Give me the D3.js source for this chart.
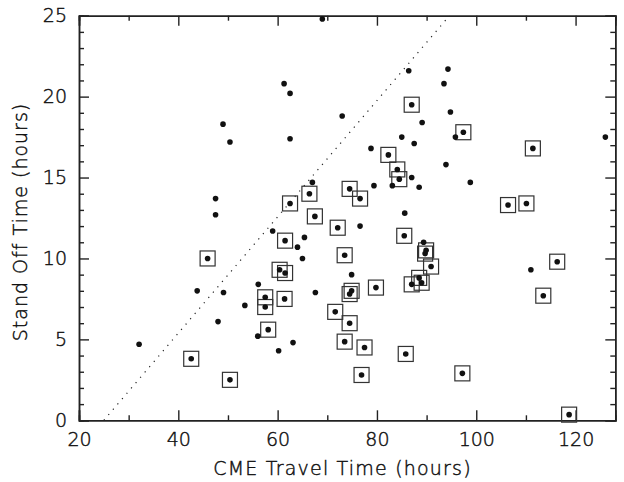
<!DOCTYPE html>
<html>
<head>
<meta charset="utf-8">
<script src="https://cdn.jsdelivr.net/npm/d3@7"></script>
<style>
    body { margin: 0; background: #fff; }
    svg text { font-family: "DejaVu Sans", "Liberation Sans", sans-serif; font-weight: 200;
        fill: #111; stroke: #111; stroke-width: 0.45px; }
</style>
</head>
<body>
<div id="chart"></div>
<script>
// plain events (dots only)
const plainTravel = [32.1, 43.8, 49.1, 48.0, 53.4, 56.1, 56.0, 60.2, 63.1, 59.0, 65.4, 64.0, 65.0, 67.6,
    49.0, 50.4, 47.5, 47.5, 61.3, 62.5, 62.5, 67.0, 69.0, 86.4, 94.3, 93.5, 94.8, 73.0, 89.1, 95.8,
    126.0, 85.0, 87.5, 78.8, 93.9, 87.0, 79.4, 83.1, 88.5, 98.8, 76.6, 85.6, 89.4, 74.9, 111.0];
const plainStandOff = [4.7, 8.0, 7.9, 6.1, 7.1, 8.4, 5.2, 4.3, 4.8, 11.7, 11.3, 10.7, 10.0, 7.9,
    18.3, 17.2, 13.7, 12.7, 20.8, 20.2, 17.4, 14.7, 24.8, 21.6, 21.7, 20.8, 19.05, 18.8, 18.4, 17.5,
    17.5, 17.5, 17.1, 16.8, 15.8, 15.0, 14.5, 14.5, 14.4, 14.7, 12.0, 12.8, 11.0, 9.0, 9.3];

// boxed events (dot inside a square)
const boxedTravel = [42.6, 45.9, 50.4, 57.5, 57.5, 58.1, 60.4, 61.5, 61.4, 61.5, 62.5, 66.4, 67.5,
    87.0, 97.4, 111.4, 82.3, 84.1, 84.5, 74.5, 76.6, 72.1, 106.4, 110.1, 85.5, 73.5, 74.5, 74.9,
    79.8, 71.6, 74.5, 73.5, 77.5, 76.9, 89.9, 89.7, 90.9, 88.5, 87.0, 89.0, 85.8, 97.2, 116.3,
    113.5, 118.7];
const boxedStandOff = [3.8, 10.0, 2.5, 7.6, 7.0, 5.6, 9.3, 9.1, 7.5, 11.1, 13.4, 14.0, 12.6,
    19.5, 17.8, 16.8, 16.4, 15.5, 14.9, 14.3, 13.7, 11.9, 13.3, 13.4, 11.4, 10.2, 7.8, 8.0,
    8.2, 6.7, 6.0, 4.86, 4.5, 2.8, 10.5, 10.3, 9.5, 8.8, 8.4, 8.5, 4.1, 2.9, 9.8,
    7.7, 0.35];

// dotted reference line end points (travel, standoff)
const refLineTravel = [25, 94.6];
const refLineStandOff = [0, 25];

const xTicks = [20, 40, 60, 80, 100, 120];
const xMinor = [30, 50, 70, 90, 110];
const yTicks = [0, 5, 10, 15, 20, 25];
const yMinor = d3.range(0, 26);

const W = 624, H = 482;
const mLeft = 79, mRight = 615.3, mTop = 15.7, mBottom = 420.3;

let x = d3.scaleLinear().domain([20, 128]).range([mLeft, mRight]);
let y = d3.scaleLinear().domain([0, 25]).range([mBottom, mTop]);

let svg = d3.select("#chart").append("svg")
    .attr("width", W).attr("height", H);

// dotted line (clipped to plot)
svg.append("defs").append("clipPath").attr("id", "clip")
    .append("rect").attr("x", mLeft).attr("y", mTop)
    .attr("width", mRight - mLeft).attr("height", mBottom - mTop);

svg.append("line")
    .attr("clip-path", "url(#clip)")
    .attr("x1", x(refLineTravel[0])).attr("y1", y(refLineStandOff[0]))
    .attr("x2", x(refLineTravel[1])).attr("y2", y(refLineStandOff[1]))
    .attr("stroke", "#222").attr("stroke-width", 1.2)
    .attr("stroke-dasharray", "1.2,5.8");

// frame + ticks, all pointing inward
let major = 10, minor = 5;

let axB = svg.append("g").attr("transform", "translate(0," + mBottom + ")")
    .call(d3.axisBottom(x).tickValues(xTicks).tickSize(-major).tickPadding(12)
        .tickFormat(d3.format("d")));
axB.append("g").call(d3.axisBottom(x).tickValues(xMinor).tickSize(-minor).tickFormat(""));

let axT = svg.append("g").attr("transform", "translate(0," + mTop + ")")
    .call(d3.axisTop(x).tickValues(xTicks).tickSize(-major).tickFormat(""));
axT.append("g").call(d3.axisTop(x).tickValues(xMinor).tickSize(-minor).tickFormat(""));

let axL = svg.append("g").attr("transform", "translate(" + mLeft + ",0)")
    .call(d3.axisLeft(y).tickValues(yTicks).tickSize(-major).tickPadding(12)
        .tickFormat(d3.format("d")));
axL.append("g").call(d3.axisLeft(y).tickValues(yMinor.filter(d => d % 5 !== 0))
    .tickSize(-minor).tickFormat(""));

let axR = svg.append("g").attr("transform", "translate(" + mRight + ",0)")
    .call(d3.axisRight(y).tickValues(yTicks).tickSize(-major).tickFormat(""));
axR.append("g").call(d3.axisRight(y).tickValues(yMinor.filter(d => d % 5 !== 0))
    .tickSize(-minor).tickFormat(""));

svg.selectAll(".domain").attr("stroke", "#222").attr("stroke-width", 1.5);
svg.selectAll(".tick line").attr("stroke", "#222").attr("stroke-width", 1.4);
svg.selectAll(".tick text").style("font-size", "19px");

// boxes
let boxSize = 15;
svg.append("g").selectAll("rect")
    .data(boxedTravel.map((t, i) => [t, boxedStandOff[i]]))
    .enter().append("rect")
    .attr("x", d => x(d[0]) - boxSize / 2)
    .attr("y", d => y(d[1]) - boxSize / 2)
    .attr("width", boxSize).attr("height", boxSize)
    .attr("fill", "none").attr("stroke", "#333").attr("stroke-width", 1.2);

// dots
let allDots = plainTravel.map((t, i) => [t, plainStandOff[i]])
    .concat(boxedTravel.map((t, i) => [t, boxedStandOff[i]]));
svg.append("g").selectAll("circle")
    .data(allDots)
    .enter().append("circle")
    .attr("cx", d => x(d[0])).attr("cy", d => y(d[1]))
    .attr("r", 2.8).attr("fill", "#111");

// axis titles
svg.append("text")
    .attr("x", 342.5).attr("y", 475)
    .attr("text-anchor", "middle")
    .style("font-size", "19px").style("letter-spacing", "1.2px")
    .text("CME Travel Time (hours)");

svg.append("text")
    .attr("transform", "translate(27,222) rotate(-90)")
    .attr("text-anchor", "middle")
    .style("font-size", "19px").style("letter-spacing", "1px")
    .text("Stand Off Time (hours)");
</script>
</body>
</html>
